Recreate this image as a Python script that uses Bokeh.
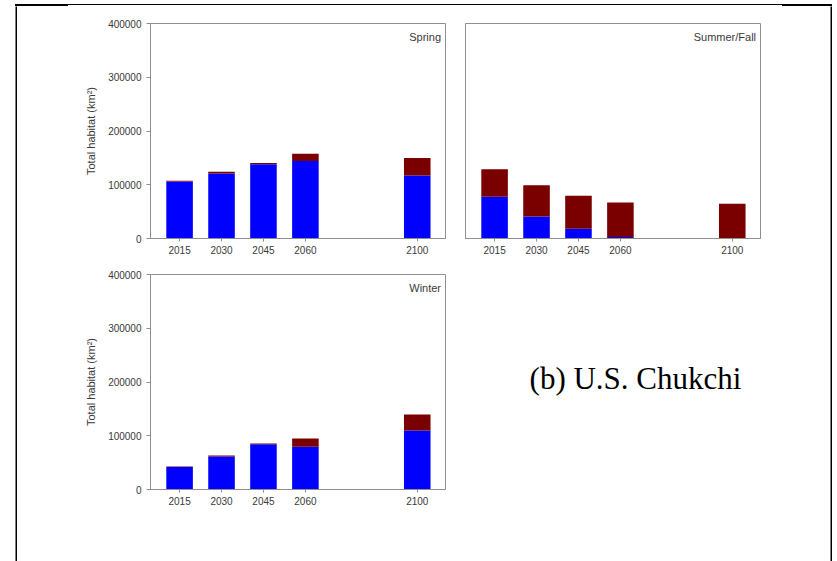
from bokeh.plotting import figure
from bokeh.layouts import row, column
from bokeh.models import (ColumnDataSource, Range1d, FixedTicker, BasicTickFormatter,
                          Label, Spacer, Div)
from bokeh.embed import file_html
from bokeh.resources import INLINE

# ---- data ----
years = [2015, 2030, 2045, 2060, 2100]
y_ticks = [0, 100000, 200000, 300000, 400000]

spring_ice = [106000, 121000, 138000, 144000, 117000]
spring_extra = [1300, 3000, 2600, 13500, 33000]

summer_ice = [77500, 41000, 18000, 3000, 0]
summer_extra = [51500, 58300, 61400, 64000, 64600]

winter_ice = [42000, 61500, 84000, 79500, 110000]
winter_extra = [1000, 1800, 1700, 15500, 29700]

BLUE = "#0000FF"
RED = "#7A0000"
GRAY = "#8f8f8f"
TXT = "#3a3a3a"
FONT = "Liberation Sans"


def panel(name, ice, extra, width, height, bl, br, bt, bb, show_y):
    p = figure(width=width, height=height, output_backend="svg", toolbar_location=None,
               x_range=Range1d(2004.6, 2110.1), y_range=Range1d(0, 400000),
               min_border_left=bl, min_border_right=br, min_border_top=bt,
               min_border_bottom=bb, y_axis_location="left" if show_y else None)
    src = ColumnDataSource(dict(year=years, ice=ice, extra=extra))
    p.vbar_stack(["ice", "extra"], x="year", width=9.5, source=src,
                 color=[BLUE, RED], line_color=None)
    p.grid.visible = False
    p.outline_line_color = GRAY
    p.outline_line_width = 1
    p.background_fill_color = "white"
    p.border_fill_color = "white"

    xa = p.xaxis[0]
    xa.ticker = FixedTicker(ticks=years)
    xa.axis_line_color = GRAY
    xa.major_tick_line_color = GRAY
    xa.major_tick_out = 3
    xa.major_tick_in = 0
    xa.minor_tick_line_color = None
    xa.major_label_text_font = FONT
    xa.major_label_text_font_size = "10px"
    xa.major_label_text_color = TXT
    xa.major_label_standoff = 4

    if show_y:
        ya = p.yaxis[0]
        ya.ticker = FixedTicker(ticks=y_ticks)
        ya.formatter = BasicTickFormatter(use_scientific=False)
        ya.axis_line_color = GRAY
        ya.major_tick_line_color = GRAY
        ya.major_tick_out = 4
        ya.major_tick_in = 0
        ya.minor_tick_line_color = None
        ya.major_label_text_font = FONT
        ya.major_label_text_font_size = "10px"
        ya.major_label_text_color = TXT
        ya.major_label_standoff = 5
        ya.axis_label = "Total habitat (km\u00b2)"
        ya.axis_label_text_font = FONT
        ya.axis_label_text_font_size = "11px"
        ya.axis_label_text_font_style = "normal"
        ya.axis_label_text_color = TXT
        ya.axis_label_standoff = 8

    p.add_layout(Label(x=2108.5, y=374000, text=name, text_align="right",
                       text_baseline="middle", text_font=FONT,
                       text_font_size="11px", text_color=TXT))
    return p


def bar_fig(w, h):
    b = figure(width=w, height=h, output_backend="svg", toolbar_location=None,
               title=None, min_border=0, x_axis_location=None, y_axis_location=None,
               background_fill_color="black", border_fill_color="black")
    b.grid.visible = False
    b.outline_line_color = None
    return b


def hline(w, bg):
    return Div(text="", width=w, height=2, margin=0,
               styles={"background": bg, "overflow": "hidden"})


p1 = panel("Spring", spring_ice, spring_extra, 438, 256, 133, 10, 17, 24, True)
p2 = panel("Summer/Fall", summer_ice, summer_extra, 375, 256, 10, 70, 17, 24, False)
p3 = panel("Winter", winter_ice, winter_extra, 438, 299, 133, 10, 12, 72, True)

p4 = figure(width=375, height=299, output_backend="svg", toolbar_location=None,
            x_range=Range1d(0, 375), y_range=Range1d(0, 299),
            min_border=0, x_axis_location=None, y_axis_location=None)
p4.grid.visible = False
p4.outline_line_color = None
p4.add_layout(Label(x=180, y=155, text="(b) U.S. Chukchi", text_align="center",
                    text_baseline="middle", text_font="Liberation Serif",
                    text_font_size="31px", text_color="black"))

border_top = row(hline(53, "black"),
                 hline(714, "linear-gradient(to bottom, black 50%, white 50%)"),
                 hline(50, "black"))
border_left = bar_fig(2, 555)
border_right = bar_fig(2, 555)

inner = column(row(p1, p2), row(p3, p4))
layout = row(Spacer(width=15, height=561),
             column(Spacer(width=817, height=4), border_top,
                    row(border_left, inner, border_right)))

open("out.html", "w").write(file_html(layout, INLINE))
